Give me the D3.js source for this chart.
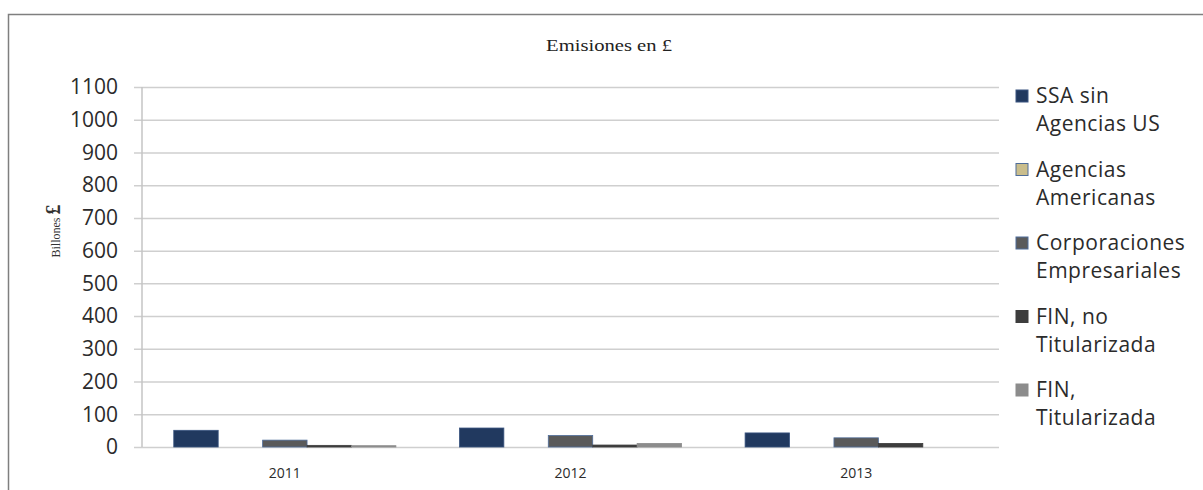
<!DOCTYPE html>
<html>
<head>
<meta charset="utf-8">
<script src="https://cdn.jsdelivr.net/npm/d3@7"></script>
<style>
  html, body { margin: 0; padding: 0; background: #fff; }
  svg { display: block; }
</style>
</head>
<body>
<svg id="chart" width="1203" height="490"></svg>
<script>
// Emissions by issuer type, billions of £
const years = ["2011", "2012", "2013"];
const seriesNames = [
  ["SSA sin", "Agencias US"],
  ["Agencias", "Americanas"],
  ["Corporaciones", "Empresariales"],
  ["FIN, no", "Titularizada"],
  ["FIN,", "Titularizada"]
];
const ssaSinAgencias = [51, 58, 43];
const agenciasAmericanas = [0, 0, 0];
const corporaciones = [21, 35, 28];
const finNoTitularizada = [5, 6, 11];
const finTitularizada = [4, 11, 0];
const yTicks = [0, 100, 200, 300, 400, 500, 600, 700, 800, 900, 1000, 1100];

const seriesValues = [ssaSinAgencias, agenciasAmericanas, corporaciones, finNoTitularizada, finTitularizada];
const fills = ["#21395f", "#c9bd8c", "#5a5a5a", "#3d3d3d", "#8c8c8c"];
const strokes = ["#3a5580", "#4f6d9a", "#4f6d9a", "#3d3d3d", "#8c8c8c"];
const textColor = "#2b2b2b";

const svg = d3.select("#chart");
const plot = { left: 142, right: 999, top: 87, bottom: 447 };

// outer frame
svg.append("rect")
  .attr("x", 8.5).attr("y", 14.5)
  .attr("width", 1210).attr("height", 500)
  .attr("fill", "none").attr("stroke", "#7f7f7f").attr("stroke-width", 1.5);

// title, drawn slightly wide
svg.append("text")
  .attr("transform", "translate(609,51) scale(1.25,1)")
  .attr("text-anchor", "middle")
  .attr("font-family", "Liberation Serif")
  .attr("font-size", 16.5)
  .attr("fill", "#222")
  .text("Emisiones en £");

const y = d3.scaleLinear().domain([0, 1100]).range([plot.bottom, plot.top]);
const x0 = d3.scaleBand().domain(years).range([plot.left, plot.right]).paddingInner(0).paddingOuter(0);
const x1 = d3.scaleBand().domain(d3.range(seriesValues.length))
  .range([0, x0.bandwidth()]).paddingOuter(0.715).paddingInner(0);

// gridlines + y labels
const yAxis = d3.axisLeft(y).tickValues(yTicks).tickFormat(d3.format("d"))
  .tickSize(-(plot.right - plot.left)).tickPadding(24);
const gy = svg.append("g").attr("transform", `translate(${plot.left},0)`).call(yAxis);
gy.select(".domain").remove();
gy.selectAll(".tick line").attr("stroke", "#cfcfcf").attr("stroke-width", 1.5).attr("x1", -8);
gy.selectAll(".tick text")
  .attr("font-family", "Open Sans")
  .attr("font-size", 21)
  .attr("fill", textColor);

// vertical axis line
svg.append("line")
  .attr("x1", plot.left).attr("x2", plot.left)
  .attr("y1", plot.top).attr("y2", plot.bottom)
  .attr("stroke", "#c4c4c4").attr("stroke-width", 1.5);

// bars
const rows = [];
years.forEach((yr, i) => seriesValues.forEach((vals, s) => rows.push({ yr, s, v: vals[i] })));
svg.append("g").selectAll("rect").data(rows.filter(d => d.v > 0)).join("rect")
  .attr("x", d => x0(d.yr) + x1(d.s))
  .attr("width", x1.bandwidth())
  .attr("y", d => y(d.v))
  .attr("height", d => y(0) - y(d.v))
  .attr("fill", d => fills[d.s])
  .attr("stroke", d => strokes[d.s])
  .attr("stroke-width", 0.8);

// x labels
svg.append("g").selectAll("text").data(years).join("text")
  .attr("x", d => x0(d) + x0.bandwidth() / 2)
  .attr("y", 478)
  .attr("text-anchor", "middle")
  .attr("font-family", "Open Sans")
  .attr("font-size", 14)
  .attr("fill", textColor)
  .text(d => d);

// y axis title
const yt = svg.append("text")
  .attr("transform", "translate(60,231) rotate(-90)")
  .attr("text-anchor", "middle")
  .attr("fill", "#333")
  .attr("font-family", "Liberation Serif");
yt.append("tspan").attr("font-size", 12).text("Billones ");
yt.append("tspan").attr("font-size", 20).attr("font-weight", "bold").text("£");

// legend
const leg = svg.append("g").selectAll("g").data(seriesNames).join("g")
  .attr("transform", (d, i) => `translate(1016,${96 + i * 73.5})`);
leg.append("rect")
  .attr("x", 0).attr("y", -6).attr("width", 12).attr("height", 12)
  .attr("fill", (d, i) => fills[i])
  .attr("stroke", (d, i) => strokes[i]).attr("stroke-width", 1);
leg.each(function(d) {
  const g = d3.select(this);
  d.forEach((line, k) => {
    g.append("text")
      .attr("x", 20).attr("y", k * 28 + 7)
      .attr("font-family", "Open Sans")
      .attr("font-size", 21)
      .attr("letter-spacing", 0.5)
      .attr("fill", textColor)
      .text(line);
  });
});
</script>
</body>
</html>
